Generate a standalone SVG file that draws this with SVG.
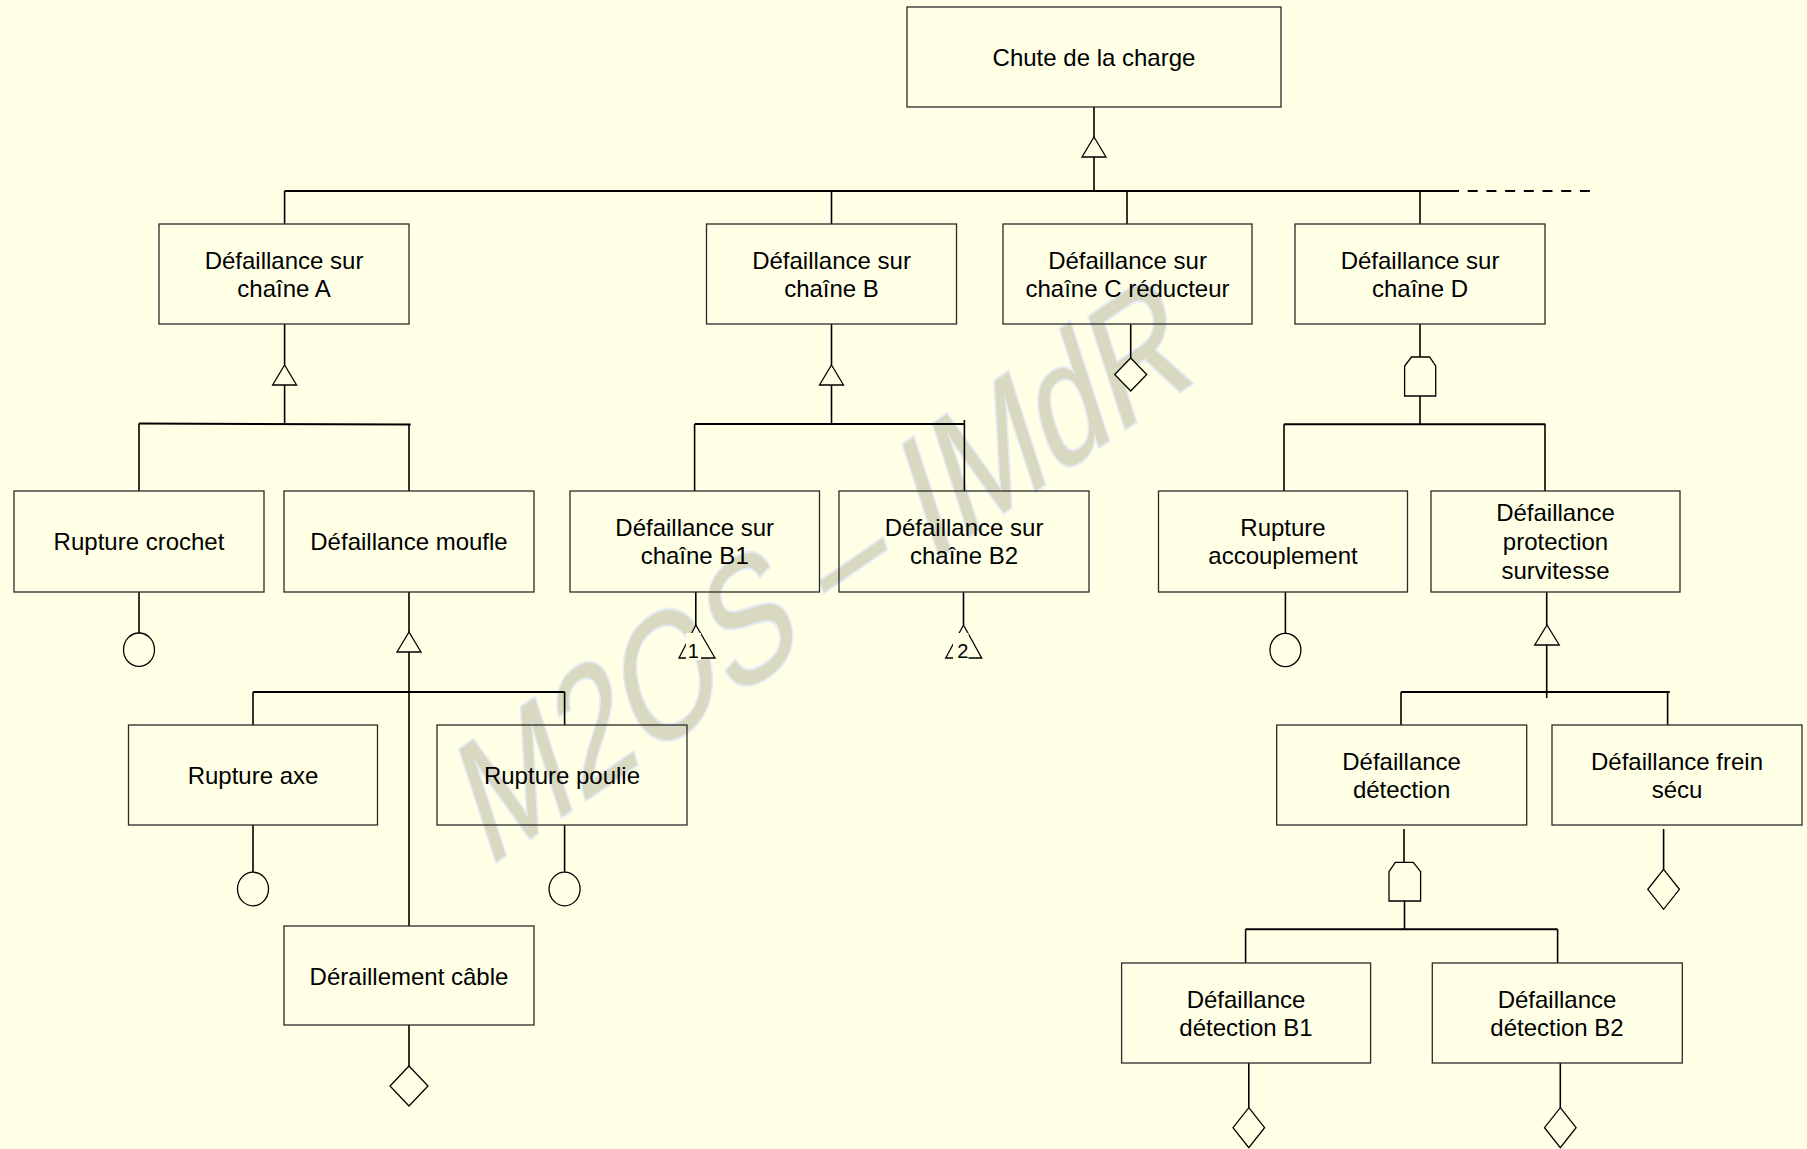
<svg xmlns="http://www.w3.org/2000/svg" width="1807" height="1149" viewBox="0 0 1807 1149">
  <style>
    .box { fill: none; stroke: #2a2a2a; stroke-width: 1.3; }
    .lbl { font-family: "Liberation Sans", Arial, sans-serif; font-size: 24px; fill: #000; text-anchor: middle; }
    .num { font-family: "Liberation Sans", Arial, sans-serif; font-size: 20px; fill: #000; text-anchor: middle; }
    .wire { stroke: #000; stroke-width: 1.6; fill: none; }
    .bus { stroke: #000; stroke-width: 2; fill: none; }
    .gate { fill: #ffffe6; stroke: #000; stroke-width: 1.3; }
    .mask { fill: #ffffe6; stroke: none; }
    .wm { font-family: "Liberation Sans", Arial, sans-serif; font-size: 124px; fill: #d9d9c1; stroke: #e6ecf3; stroke-width: 3; paint-order: stroke; }
  </style>

  <rect width="1807" height="1149" fill="#ffffe6"/>

  <!-- watermark: rotated, then stretched vertically -->
  <text class="wm" transform="translate(487 868) scale(1 1.455) rotate(-25.3)">M2OS – IMdR</text>

  <g id="connectors">
    <!-- top event to level 1 -->
    <line class="wire" x1="1094" y1="107" x2="1094" y2="137"/>
    <line class="wire" x1="1094" y1="157" x2="1094" y2="191"/>
    <line class="bus" x1="284.6" y1="191" x2="1449" y2="191"/>
    <line class="bus" x1="1449" y1="191" x2="1590" y2="191" stroke-width="2.6" stroke-dasharray="10 8.7"/>
    <line class="wire" x1="284.6" y1="191" x2="284.6" y2="224"/>
    <line class="wire" x1="831.5" y1="191" x2="831.5" y2="224"/>
    <line class="wire" x1="1127" y1="191" x2="1127" y2="224"/>
    <line class="wire" x1="1420" y1="191" x2="1420" y2="224"/>

    <!-- chain A -->
    <line class="wire" x1="284.6" y1="324" x2="284.6" y2="365"/>
    <line class="wire" x1="284.6" y1="385" x2="284.6" y2="423.5"/>
    <line class="bus" x1="139" y1="423.5" x2="410.7" y2="424.5"/>
    <line class="wire" x1="139" y1="423.5" x2="139" y2="491"/>
    <line class="wire" x1="409" y1="424.5" x2="409" y2="491"/>

    <!-- chain B -->
    <line class="wire" x1="831.5" y1="324" x2="831.5" y2="365"/>
    <line class="wire" x1="831.5" y1="385" x2="831.5" y2="424"/>
    <line class="bus" x1="694.6" y1="424" x2="964.8" y2="424"/>
    <line class="wire" x1="694.6" y1="424" x2="694.6" y2="491"/>
    <line class="wire" x1="964.4" y1="420" x2="964.4" y2="491"/>

    <!-- chain C -->
    <line class="wire" x1="1130.7" y1="324" x2="1130.7" y2="358"/>

    <!-- chain D -->
    <line class="wire" x1="1420" y1="324" x2="1420" y2="357"/>
    <line class="wire" x1="1420" y1="396" x2="1420" y2="424.3"/>
    <line class="bus" x1="1284" y1="424.3" x2="1545.4" y2="424.3"/>
    <line class="wire" x1="1284" y1="424.3" x2="1284" y2="491"/>
    <line class="wire" x1="1545" y1="424.3" x2="1545" y2="491"/>

    <!-- level 2 -->
    <line class="wire" x1="139" y1="592" x2="139" y2="633"/>
    <line class="wire" x1="409" y1="592" x2="409" y2="632"/>
    <line class="wire" x1="409" y1="652" x2="409" y2="926"/>
    <line class="bus" x1="253" y1="692" x2="564.6" y2="692"/>
    <line class="wire" x1="253" y1="692" x2="253" y2="725"/>
    <line class="wire" x1="564.6" y1="692" x2="564.6" y2="725"/>
    <line class="wire" x1="695.8" y1="592" x2="695.8" y2="625"/>
    <line class="wire" x1="963.5" y1="592" x2="963.5" y2="625"/>
    <line class="wire" x1="1285.4" y1="592" x2="1285.4" y2="633"/>
    <line class="wire" x1="1546.7" y1="592" x2="1546.7" y2="625"/>
    <line class="wire" x1="1546.7" y1="645" x2="1546.7" y2="698"/>
    <line class="bus" x1="1401" y1="692" x2="1669.7" y2="692"/>
    <line class="wire" x1="1401" y1="692" x2="1401" y2="725"/>
    <line class="wire" x1="1667.6" y1="692" x2="1667.6" y2="725"/>

    <!-- level 3 -->
    <line class="wire" x1="253" y1="825" x2="253" y2="872"/>
    <line class="wire" x1="564.6" y1="825" x2="564.6" y2="872"/>
    <line class="wire" x1="1404" y1="829" x2="1404" y2="862.3"/>
    <line class="wire" x1="1404.5" y1="901" x2="1404.5" y2="929.3"/>
    <line class="bus" x1="1245.6" y1="929.3" x2="1557.6" y2="929.3"/>
    <line class="wire" x1="1245.6" y1="929.3" x2="1245.6" y2="963"/>
    <line class="wire" x1="1557.6" y1="929.3" x2="1557.6" y2="963"/>
    <line class="wire" x1="1663.6" y1="829" x2="1663.6" y2="869.3"/>

    <!-- level 4 -->
    <line class="wire" x1="409" y1="1025" x2="409" y2="1066"/>
    <line class="wire" x1="1248.8" y1="1063" x2="1248.8" y2="1107.7"/>
    <line class="wire" x1="1560.3" y1="1063" x2="1560.3" y2="1107.7"/>
  </g>

  <g id="n-top">
    <rect class="box" x="907" y="7" width="374" height="100"/>
    <text class="lbl" x="1094" y="66">Chute de la charge</text>
    <polygon class="gate" points="1094,137 1106,157 1082,157"/>
  </g>

  <g id="n-chain-a">
    <rect class="box" x="159" y="224" width="250" height="100"/>
    <text class="lbl" x="284" y="269">Défaillance sur</text>
    <text class="lbl" x="284" y="297">chaîne A</text>
    <polygon class="gate" points="284.6,365 296.6,385 272.6,385"/>
  </g>

  <g id="n-chain-b">
    <rect class="box" x="706.5" y="224" width="250" height="100"/>
    <text class="lbl" x="831.5" y="269">Défaillance sur</text>
    <text class="lbl" x="831.5" y="297">chaîne B</text>
    <polygon class="gate" points="831.5,365 843.5,385 819.5,385"/>
  </g>

  <g id="n-chain-c">
    <rect class="box" x="1003" y="224" width="249" height="100"/>
    <text class="lbl" x="1127.5" y="269">Défaillance sur</text>
    <text class="lbl" x="1127.5" y="297">chaîne C réducteur</text>
    <polygon class="gate" points="1130.7,358 1146.7,374.5 1130.7,391 1114.7,374.5"/>
  </g>

  <g id="n-chain-d">
    <rect class="box" x="1295" y="224" width="250" height="100"/>
    <text class="lbl" x="1420" y="269">Défaillance sur</text>
    <text class="lbl" x="1420" y="297">chaîne D</text>
    <polygon class="gate" points="1411.5,357 1429.6,357 1435.7,366 1435.7,396 1404.6,396 1404.6,366"/>
  </g>

  <g id="n-crochet">
    <rect class="box" x="14" y="491" width="250" height="101"/>
    <text class="lbl" x="139" y="550">Rupture crochet</text>
    <ellipse class="gate" cx="139" cy="649.7" rx="15.5" ry="16.7"/>
  </g>

  <g id="n-moufle">
    <rect class="box" x="284" y="491" width="250" height="101"/>
    <text class="lbl" x="409" y="550">Défaillance moufle</text>
    <polygon class="gate" points="409,632 421,652 397,652"/>
  </g>

  <g id="n-chain-b1">
    <rect class="box" x="570" y="491" width="249.5" height="101"/>
    <text class="lbl" x="694.7" y="536">Défaillance sur</text>
    <text class="lbl" x="694.7" y="564">chaîne B1</text>
    <polygon class="gate" points="695.8,625 715,658 679,658"/>
    <rect class="mask" x="686" y="633" width="15" height="27"/>
    <text class="num" x="693.3" y="657.7">1</text>
  </g>

  <g id="n-chain-b2">
    <rect class="box" x="839" y="491" width="250" height="101"/>
    <text class="lbl" x="964" y="536">Défaillance sur</text>
    <text class="lbl" x="964" y="564">chaîne B2</text>
    <polygon class="gate" points="963.5,625 981.7,658 945.7,658"/>
    <rect class="mask" x="953" y="633" width="15.5" height="27"/>
    <text class="num" x="962.7" y="657.7">2</text>
  </g>

  <g id="n-accouplement">
    <rect class="box" x="1158.5" y="491" width="249" height="101"/>
    <text class="lbl" x="1283" y="536">Rupture</text>
    <text class="lbl" x="1283" y="564">accouplement</text>
    <ellipse class="gate" cx="1285.4" cy="650" rx="15.5" ry="16.7"/>
  </g>

  <g id="n-protection">
    <rect class="box" x="1431" y="491" width="249" height="101"/>
    <text class="lbl" x="1555.5" y="521">Défaillance</text>
    <text class="lbl" x="1555.5" y="550">protection</text>
    <text class="lbl" x="1555.5" y="578.5">survitesse</text>
    <polygon class="gate" points="1547,625 1559.3,645 1534.7,645"/>
  </g>

  <g id="n-axe">
    <rect class="box" x="128.5" y="725" width="249" height="100"/>
    <text class="lbl" x="253" y="784">Rupture axe</text>
    <ellipse class="gate" cx="253" cy="889" rx="15.5" ry="16.8"/>
  </g>

  <g id="n-poulie">
    <rect class="box" x="437" y="725" width="250" height="100"/>
    <text class="lbl" x="562" y="784">Rupture poulie</text>
    <ellipse class="gate" cx="564.6" cy="889" rx="15.5" ry="16.8"/>
  </g>

  <g id="n-detection">
    <rect class="box" x="1276.7" y="725" width="250" height="100"/>
    <text class="lbl" x="1401.6" y="769.5">Défaillance</text>
    <text class="lbl" x="1401.6" y="798">détection</text>
    <polygon class="gate" points="1395.3,862.3 1413.3,862.3 1420.6,871.7 1420.6,901 1389,901 1389,871.7"/>
  </g>

  <g id="n-frein">
    <rect class="box" x="1552" y="725" width="250" height="100"/>
    <text class="lbl" x="1677" y="769.5">Défaillance frein</text>
    <text class="lbl" x="1677" y="798">sécu</text>
    <polygon class="gate" points="1663.6,869.3 1679.4,889.3 1663.6,909.3 1647.8,889.3"/>
  </g>

  <g id="n-derail">
    <rect class="box" x="284" y="926" width="250" height="99"/>
    <text class="lbl" x="409" y="985">Déraillement câble</text>
    <polygon class="gate" points="409,1066 428,1086 409,1106 390,1086"/>
  </g>

  <g id="n-detection-b1">
    <rect class="box" x="1121.6" y="963" width="249" height="100"/>
    <text class="lbl" x="1246" y="1007.5">Défaillance</text>
    <text class="lbl" x="1246" y="1035.5">détection B1</text>
    <polygon class="gate" points="1248.8,1107.7 1264.6,1127.7 1248.8,1147.7 1233,1127.7"/>
  </g>

  <g id="n-detection-b2">
    <rect class="box" x="1432.3" y="963" width="250" height="100"/>
    <text class="lbl" x="1557" y="1007.5">Défaillance</text>
    <text class="lbl" x="1557" y="1035.5">détection B2</text>
    <polygon class="gate" points="1560.3,1107.7 1576.1,1127.7 1560.3,1147.7 1544.5,1127.7"/>
  </g>
</svg>
